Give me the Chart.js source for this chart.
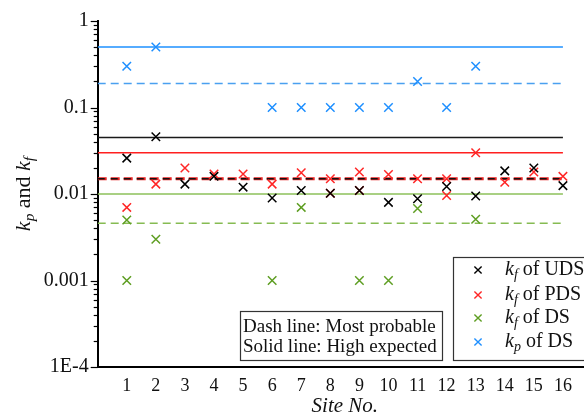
<!DOCTYPE html>
<html>
<head>
<meta charset="utf-8">
<script src="https://cdn.jsdelivr.net/npm/chart.js@4.4.1/dist/chart.umd.min.js"></script>
<style>
  html, body { margin: 0; padding: 0; background: #fff; overflow: hidden; }
  #wrap { position: relative; width: 600px; height: 419px; }
</style>
</head>
<body>
<div id="wrap"><canvas id="c" width="600" height="419"></canvas></div>
<script>
// Sites on the horizontal axis
const sites = [1, 2, 3, 4, 5, 6, 7, 8, 9, 10, 11, 12, 13, 14, 15, 16];

// k_f of UDS
const udsSites = [1, 2, 3, 4, 5, 6, 7, 8, 9, 10, 11, 12, 13, 14, 15, 16];
const udsKf = [0.026, 0.046, 0.013, 0.016, 0.012, 0.009, 0.011, 0.0102, 0.011, 0.008, 0.0088, 0.0122, 0.0095, 0.0185, 0.02, 0.0125];

// k_f of PDS
const pdsSites = [1, 2, 3, 4, 5, 6, 7, 8, 8, 9, 9, 10, 11, 12, 12, 13, 14, 15, 16];
const pdsKf = [0.007, 0.013, 0.02, 0.017, 0.017, 0.013, 0.0176, 0.015, 0.0102, 0.018, 0.011, 0.0168, 0.015, 0.015, 0.0096, 0.03, 0.0137, 0.018, 0.016];

// k_f of DS
const dsSites = [1, 1, 2, 6, 7, 9, 10, 11, 13];
const dsKf = [0.005, 0.001, 0.003, 0.001, 0.007, 0.001, 0.001, 0.0068, 0.0051];

// k_p of DS
const kpSites = [1, 2, 6, 7, 8, 9, 10, 11, 12, 13];
const dsKp = [0.3, 0.5, 0.1, 0.1, 0.1, 0.1, 0.1, 0.2, 0.1, 0.3];

// Reference levels (solid: high expected, dashed: most probable)
const kpDsHigh = 0.5;
const kpDsProbable = 0.19;
const kfUdsHigh = 0.045;
const kfPdsHigh = 0.03;
const kfUdsProbable = 0.015;
const kfPdsProbable = 0.015;
const kfDsHigh = 0.01;
const kfDsProbable = 0.0046;
const levelSpan = [0, 16];

// Labelled decades on the vertical axis
const yTickValues = [1e-4, 1e-3, 1e-2, 1e-1, 1];
const yTickLabels = ['1E-4', '0.001', '0.01', '0.1', '1'];

const SERIF = '"Liberation Serif", "DejaVu Serif", serif';

const C_BLACK = '#000000';
const C_RED = '#ff2626';
const C_GREEN = '#5e9e22';
const C_BLUE = '#1e8fff';

function pts(xs, ys) { return xs.map((x, i) => ({ x: x, y: ys[i] })); }
function level(v) { return levelSpan.map(x => ({ x: x, y: v })); }

function marks(label, xs, ys, color, order) {
  return {
    type: 'scatter', label: label, data: pts(xs, ys), order: order,
    pointStyle: 'crossRot', pointRadius: 6, pointHoverRadius: 6,
    borderColor: color, backgroundColor: color, pointBorderWidth: 1.5
  };
}
function ref(label, v, color, width, dash, order) {
  return {
    type: 'line', label: label, data: level(v), order: order,
    borderColor: color, borderWidth: width, borderDash: dash || [],
    pointRadius: 0, fill: false, tension: 0
  };
}

const datasets = [
  marks('kf of UDS', udsSites, udsKf, C_BLACK, 1),
  marks('kf of PDS', pdsSites, pdsKf, C_RED, 2),
  marks('kf of DS', dsSites, dsKf, C_GREEN, 3),
  marks('kp of DS', kpSites, dsKp, C_BLUE, 4),
  ref('kp DS high', kpDsHigh, '#1e90ff', 1.5, null, 10),
  ref('kp DS probable', kpDsProbable, '#4aa0f0', 1.5, [8, 5], 10),
  ref('kf UDS high', kfUdsHigh, '#1a1a1a', 1.5, null, 10),
  ref('kf PDS high', kfPdsHigh, '#ff1f1f', 1.5, null, 10),
  ref('kf UDS probable', kfUdsProbable, '#111111', 1.6, [7, 6], 11),
  ref('kf PDS probable', kfPdsProbable, '#e82020', 3, [9, 4], 12),
  ref('kf DS high', kfDsHigh, '#8cc05a', 1.5, null, 10),
  ref('kf DS probable', kfDsProbable, '#86bb52', 1.5, [8, 5], 10)
];

function isDecade(v) {
  const l = Math.log10(v);
  return Math.abs(l - Math.round(l)) < 1e-9;
}
function decadeLabel(v) {
  for (let i = 0; i < yTickValues.length; i++) {
    if (Math.abs(Math.log10(v) - Math.log10(yTickValues[i])) < 1e-9) return yTickLabels[i];
  }
  return '';
}

// Draw a run of text pieces, some italic and some subscripted
function richText(ctx, x, y, parts, size) {
  let cx = x;
  parts.forEach(p => {
    const s = p.sub ? size * 0.7 : size;
    ctx.font = (p.italic ? 'italic ' : '') + s + 'px ' + SERIF;
    ctx.fillText(p.t, cx, y + (p.sub ? size * 0.28 : 0));
    cx += ctx.measureText(p.t).width + (p.gap || 0);
  });
  return cx - x;
}
function richWidth(ctx, parts, size) {
  let w = 0;
  parts.forEach(p => {
    const s = p.sub ? size * 0.7 : size;
    ctx.font = (p.italic ? 'italic ' : '') + s + 'px ' + SERIF;
    w += ctx.measureText(p.t).width + (p.gap || 0);
  });
  return w;
}

const extras = {
  id: 'extras',
  afterDraw(chart) {
    const ctx = chart.ctx;
    const ys = chart.scales.y;
    const area = chart.chartArea;
    ctx.save();

    // tick marks on the log axis
    ctx.strokeStyle = '#000';
    ctx.lineWidth = 1.2;
    ys.ticks.forEach(t => {
      const py = Math.round(ys.getPixelForValue(t.value)) + 0.5;
      const len = isDecade(t.value) ? 7 : 4;
      ctx.beginPath();
      ctx.moveTo(area.left - len, py);
      ctx.lineTo(area.left, py);
      ctx.stroke();
    });

    // vertical axis title
    ctx.fillStyle = '#111';
    ctx.textBaseline = 'middle';
    const tparts = [
      { t: 'k', italic: true }, { t: 'p', italic: true, sub: true },
      { t: ' and ' },
      { t: 'k', italic: true }, { t: 'f', italic: true, sub: true }
    ];
    const tsize = 22;
    const tw = richWidth(ctx, tparts, tsize);
    ctx.save();
    ctx.translate(24, (area.top + area.bottom) / 2);
    ctx.rotate(-Math.PI / 2);
    ctx.textAlign = 'left';
    richText(ctx, -tw / 2, 0, tparts, tsize);
    ctx.restore();

    // line-style note
    ctx.strokeStyle = '#333';
    ctx.lineWidth = 1.2;
    ctx.strokeRect(240.5, 311.5, 202, 49);
    ctx.textAlign = 'left';
    ctx.font = '19px ' + SERIF;
    ctx.fillText('Dash line: Most probable', 243, 327);
    ctx.fillText('Solid line: High expected', 243, 347);

    // series key
    ctx.strokeRect(453.5, 257.5, 200, 103);
    const rows = [
      { c: C_BLACK, s: 'f', txt: ' of UDS', y: 270 },
      { c: C_RED, s: 'f', txt: ' of PDS', y: 295 },
      { c: C_GREEN, s: 'f', txt: ' of DS', y: 318 },
      { c: C_BLUE, s: 'p', txt: ' of DS', y: 342 }
    ];
    rows.forEach(r => {
      ctx.strokeStyle = r.c;
      ctx.lineWidth = 1.4;
      const mx = 478, d = 3.6;
      ctx.beginPath();
      ctx.moveTo(mx - d, r.y - d); ctx.lineTo(mx + d, r.y + d);
      ctx.moveTo(mx - d, r.y + d); ctx.lineTo(mx + d, r.y - d);
      ctx.stroke();
      ctx.fillStyle = '#111';
      richText(ctx, 505, r.y, [
        { t: 'k', italic: true }, { t: r.s, italic: true, sub: true }, { t: r.txt }
      ], 20);
    });

    ctx.restore();
  }
};

new Chart(document.getElementById('c'), {
  data: { datasets: datasets },
  plugins: [extras],
  options: {
    responsive: false,
    animation: false,
    devicePixelRatio: 1,
    layout: { padding: { left: 0, top: 19, right: 4, bottom: 0 } },
    plugins: { legend: { display: false }, tooltip: { enabled: false } },
    scales: {
      x: {
        type: 'linear', min: 0, max: 17,
        grid: { display: false, drawTicks: false },
        border: { display: true, color: '#000', width: 2 },
        ticks: {
          stepSize: 1, autoSkip: false, padding: 8,
          color: '#111', font: { family: SERIF, size: 18 },
          callback: v => (sites.includes(v) ? String(v) : '')
        },
        title: {
          display: true, text: 'Site No.', color: '#111',
          font: { family: SERIF, size: 21, style: 'italic' },
          padding: { top: 4, bottom: 0 }
        },
        afterFit: s => { s.height = 52; }
      },
      y: {
        type: 'logarithmic', min: 1e-4, max: 1,
        grid: { display: false, drawTicks: false },
        border: { display: true, color: '#000', width: 2 },
        ticks: {
          autoSkip: false, padding: 9,
          color: '#111', font: { family: SERIF, size: 20 },
          callback: v => decadeLabel(v)
        },
        afterBuildTicks: s => {
          const t = [];
          for (let d = -4; d < 0; d++) {
            for (let m = 1; m <= 9; m++) t.push({ value: m * Math.pow(10, d), major: m === 1 });
          }
          t.push({ value: 1, major: true });
          s.ticks = t;
        },
        afterFit: s => { s.width = 97.7; }
      }
    }
  }
});
</script>
</body>
</html>
